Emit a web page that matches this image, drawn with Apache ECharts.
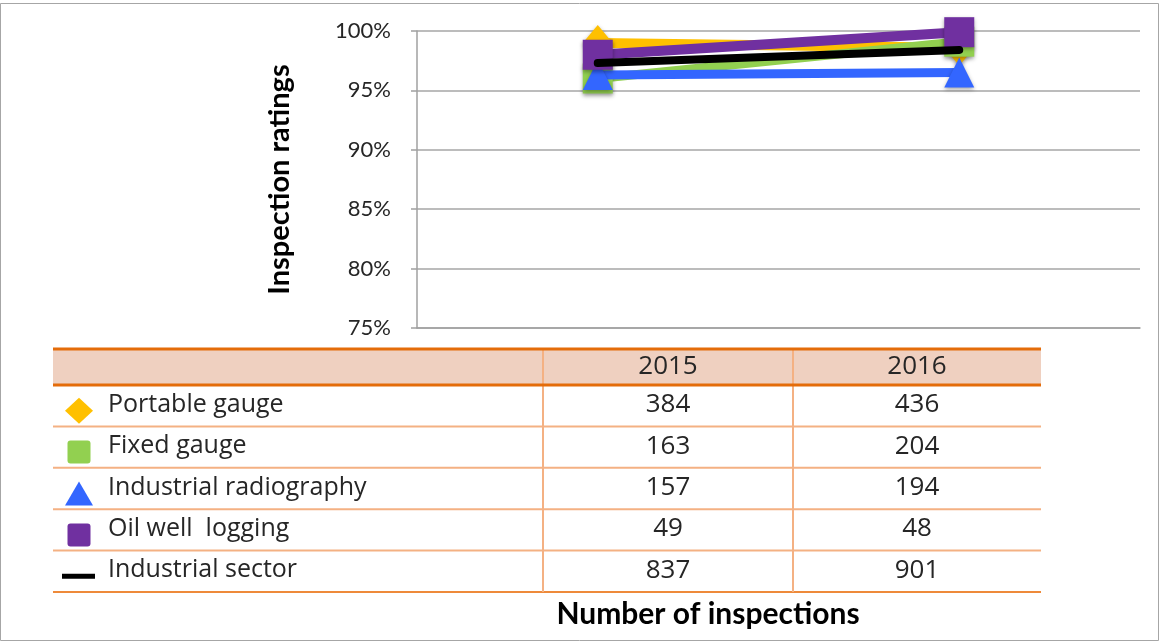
<!DOCTYPE html>
<html>
<head>
<meta charset="utf-8">
<title>Inspection ratings</title>
<script src="https://cdn.jsdelivr.net/npm/echarts@6/dist/echarts.min.js"></script>
<style>
  html, body { margin: 0; padding: 0; background: #fff; }
  #chart { width: 1160px; height: 643px; }
</style>
</head>
<body>
<div id="chart"></div>
<script>
// years on the x axis / table header
const years = ['2015', '2016']
const seriesNames = ['Portable gauge', 'Fixed gauge', 'Industrial radiography', 'Oil well  logging', 'Industrial sector']

// inspection ratings (%)
const portableRating = [99.0, 98.6]
const fixedRating = [96.0, 99.1]
const radiographyRating = [96.3, 96.5]
const oilWellRating = [98.0, 99.9]
const sectorRating = [97.3, 98.4]

// number of inspections (table)
const portableCount = [384, 436]
const fixedCount = [163, 204]
const radiographyCount = [157, 194]
const oilWellCount = [49, 48]
const sectorCount = [837, 901]

const yTicks = [75, 80, 85, 90, 95, 100]

const colors = ['#FFC000', '#92D050', '#3366FF', '#7030A0', '#000000']
const FONT = 'Lato, "Liberation Sans", sans-serif'
const TBL_FONT = '"Open Sans", Lato, sans-serif'

const chart = echarts.init(document.getElementById('chart'))

const ratings = [portableRating, fixedRating, radiographyRating, oilWellRating, sectorRating]
const counts = [portableCount, fixedCount, radiographyCount, oilWellCount, sectorCount]
const symbols = ['diamond', 'rect', 'triangle', 'rect', 'none']
const lineWidths = [10, 9, 9, 10, 8]

const series = ratings.map((data, i) => ({
  name: seriesNames[i],
  type: 'line',
  data: data,
  symbol: symbols[i],
  symbolSize: i === 0 ? [30, 36] : 30,
  lineStyle: {
    width: lineWidths[i],
    color: colors[i],
    cap: 'round'
  },
  itemStyle: {
    color: colors[i],
    borderRadius: 3,
    shadowBlur: 4,
    shadowColor: 'rgba(0,0,0,0.35)',
    shadowOffsetY: 2
  },
  emphasis: { disabled: true },
  z: 2 + i
}))

// table layout
const tblLeft = 53
const tblRight = 1041
const col1 = 543
const col2 = 793
const headTop = 349
const headBottom = 385
const rowH = 41.4

const graphics = []
// outer border
graphics.push({
  type: 'rect',
  shape: { x: 0.5, y: 3.5, width: 1158, height: 637 },
  style: { fill: 'none', stroke: '#a6a6a6', lineWidth: 1 },
  silent: true
})
// header fill
graphics.push({
  type: 'rect',
  shape: { x: tblLeft, y: headTop, width: tblRight - tblLeft, height: headBottom - headTop },
  style: { fill: '#EFD0C0' },
  silent: true
})
// thin row lines
for (let r = 1; r <= seriesNames.length; r++) {
  const y = headBottom + r * rowH
  graphics.push({
    type: 'line',
    shape: { x1: tblLeft, y1: y, x2: tblRight, y2: y },
    style: { stroke: r === seriesNames.length ? '#EE8A3A' : '#F4B183', lineWidth: 2 },
    silent: true
  })
}
// vertical lines
;[col1, col2].forEach(x => {
  graphics.push({
    type: 'line',
    shape: { x1: x, y1: headTop, x2: x, y2: headBottom + seriesNames.length * rowH },
    style: { stroke: '#F4B183', lineWidth: 2 },
    silent: true
  })
})
// thick header lines
;[headTop, headBottom].forEach(y => {
  graphics.push({
    type: 'line',
    shape: { x1: tblLeft, y1: y, x2: tblRight, y2: y },
    style: { stroke: '#E46C0A', lineWidth: 3 },
    silent: true
  })
})
// header years
const colCenters = [(col1 + col2) / 2, (col2 + tblRight) / 2]
years.forEach((yr, j) => {
  graphics.push({
    type: 'text',
    style: {
      text: yr, x: colCenters[j], y: (headTop + headBottom) / 2,
      align: 'center', verticalAlign: 'middle',
      font: '26px ' + TBL_FONT, fill: '#262626'
    },
    silent: true
  })
})
// counts
counts.forEach((row, r) => {
  row.forEach((v, j) => {
    graphics.push({
      type: 'text',
      style: {
        text: String(v), x: colCenters[j], y: headBottom + r * rowH + rowH / 2 - 1,
        align: 'center', verticalAlign: 'middle',
        font: '26px ' + TBL_FONT, fill: '#262626'
      },
      silent: true
    })
  })
})

// row labels with their key markers
const keyX = 79
function keyMarker(i, cy) {
  const c = colors[i]
  if (symbols[i] === 'diamond') {
    return { type: 'polygon', shape: { points: [[keyX, cy - 13], [keyX + 14, cy], [keyX, cy + 13], [keyX - 14, cy]] }, style: { fill: c } }
  }
  if (symbols[i] === 'triangle') {
    return { type: 'polygon', shape: { points: [[keyX, cy - 12], [keyX + 14, cy + 12], [keyX - 14, cy + 12]] }, style: { fill: c } }
  }
  if (symbols[i] === 'rect') {
    return { type: 'rect', shape: { x: keyX - 11.5, y: cy - 11.5, width: 23, height: 23, r: 3 }, style: { fill: c } }
  }
  return { type: 'rect', shape: { x: keyX - 17, y: cy - 2.5, width: 33, height: 5 }, style: { fill: c } }
}
seriesNames.forEach((name, r) => {
  const cy = headBottom + r * rowH + rowH / 2
  const m = keyMarker(r, cy + 5)
  m.silent = true
  graphics.push(m)
  graphics.push({
    type: 'text',
    style: {
      text: name, x: 108, y: cy - 1,
      align: 'left', verticalAlign: 'middle',
      font: '25px ' + TBL_FONT, fill: '#262626'
    },
    silent: true
  })
})

// x axis title
graphics.push({
  type: 'text',
  style: {
    text: 'Number of inspections', x: 708, y: 614,
    align: 'center', verticalAlign: 'middle',
    font: 'bold 30px ' + FONT, fill: '#000'
  },
  silent: true
})

chart.setOption({
  animation: false,
  backgroundColor: '#ffffff',
  grid: { left: 417, right: 20, top: 31, bottom: 315 },
  xAxis: {
    type: 'category',
    data: years,
    boundaryGap: true,
    axisLine: { show: true, lineStyle: { color: '#a0a0a0', width: 1.5 } },
    axisTick: { show: false },
    axisLabel: { show: false },
    splitLine: { show: false }
  },
  yAxis: {
    type: 'value',
    min: yTicks[0],
    max: yTicks[yTicks.length - 1],
    interval: yTicks[1] - yTicks[0],
    name: 'Inspection ratings',
    nameLocation: 'middle',
    nameGap: 123,
    nameTextStyle: { fontFamily: FONT, fontSize: 29, fontWeight: 'bold', color: '#000' },
    axisLine: { show: true, lineStyle: { color: '#a0a0a0', width: 1.5 } },
    axisTick: { show: true, inside: false, length: 6, lineStyle: { color: '#a0a0a0', width: 1.5 } },
    axisLabel: {
      formatter: '{value}%',
      fontFamily: FONT,
      fontSize: 22,
      color: '#262626',
      margin: 26
    },
    splitLine: { show: true, lineStyle: { color: '#a6a6a6', width: 1.5 } }
  },
  series: series,
  graphic: graphics
})
</script>
</body>
</html>
